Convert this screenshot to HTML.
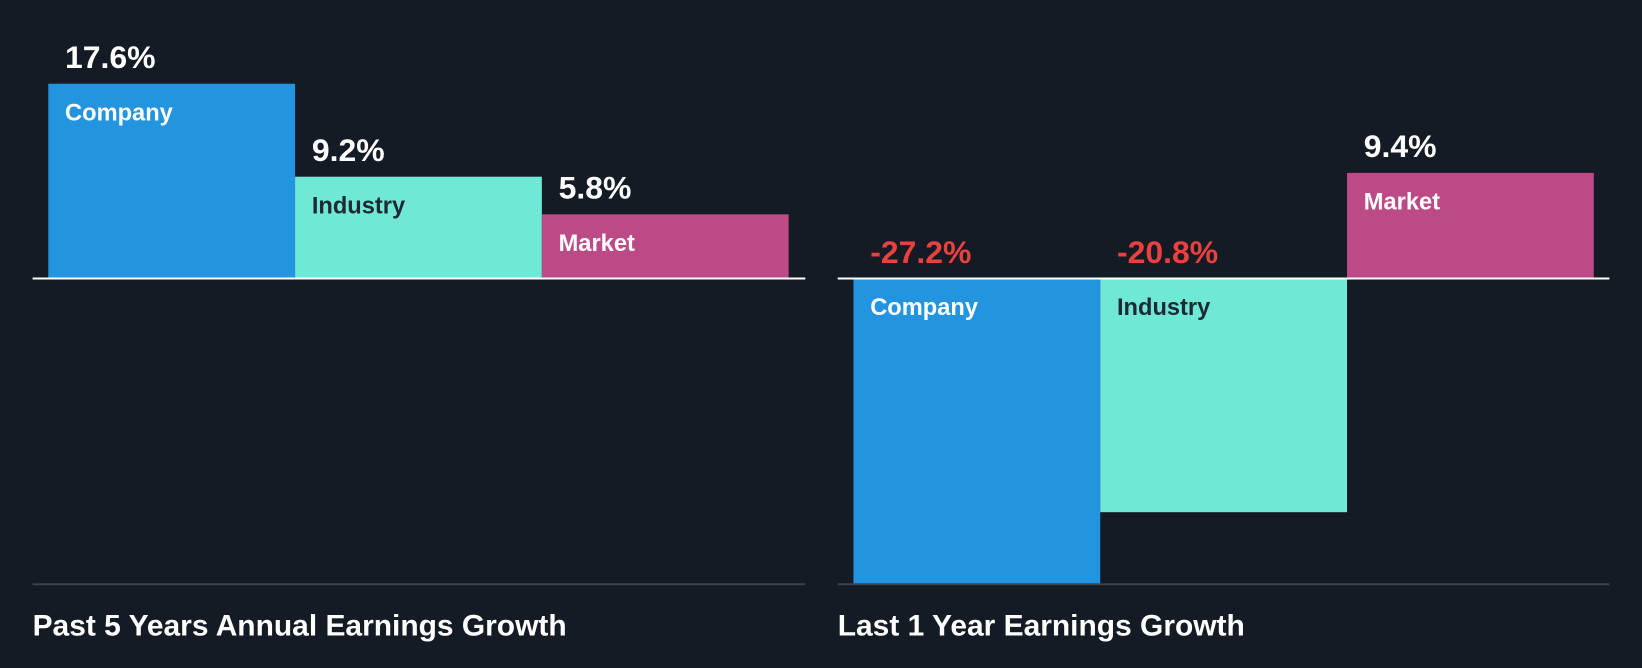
<!DOCTYPE html>
<html><head><meta charset="utf-8"><style>
html,body{margin:0;padding:0;background:#151b24;}
svg{display:block;font-family:"Liberation Sans",sans-serif;font-weight:bold;}
</style></head><body>
<svg id="chart" width="1642" height="668" viewBox="0 0 1568 638" xmlns="http://www.w3.org/2000/svg">
<rect x="0" y="0" width="1568" height="638" fill="#151b24"/>
</svg>
<script>
const categories = ["Company","Industry","Market"];
const past5Values = [17.6, 9.2, 5.8];
const last1Values = [-27.2, -20.8, 9.4];
const panelTitles = ["Past 5 Years Annual Earnings Growth","Last 1 Year Earnings Growth"];
const colors = ["#2394e0","#70e8d6","#bb4a86"];
const textColors = ["#ffffff","#1e2a33","#ffffff"];
const svg = document.getElementById('chart');
const NS = 'http://www.w3.org/2000/svg';
function mk(tag, attrs){const e=document.createElementNS(NS,tag);for(const k in attrs)e.setAttribute(k,attrs[k]);svg.appendChild(e);return e;}
function panel(idx, values, x0, x1, pxPer){
  const base=266, barW=235.7, barX0=x0+15;
  const y=v=>base - v*pxPer;
  values.forEach((v,i)=>{
    const bx=barX0+i*barW;
    const top=Math.min(y(v),base), h=Math.abs(y(v)-base);
    const r=mk('rect',{x:bx,y:top,width:barW,height:h,fill:colors[i]});
    
    
    const lbl=mk('text',{x:bx+16,y:(v>=0?top:base)+35,fill:textColors[i],'font-size':22.6});
    lbl.textContent=categories[i];
    
    
    const val=mk('text',{x:bx+16,y:(v>=0?top-15:base-15),fill:v>=0?'#ffffff':'#e8413f','font-size':30.5});
    val.textContent=v.toFixed(1)+'%';
    
    
  });
  const zl=mk('line',{x1:x0,x2:x1,y1:base,y2:base,stroke:'#ffffff','stroke-width':2});
  
  
  const bl=mk('line',{x1:x0,x2:x1,y1:558,y2:558,stroke:'#3c424b','stroke-width':2});
  
  
  const t=mk('text',{x:x0,y:607,fill:'#ffffff','font-size':28.6});
  t.textContent=panelTitles[idx];
  
  
}
panel(0,past5Values,31,769,10.57);
panel(1,last1Values,800,1537,10.73);
</script>
</body></html>
